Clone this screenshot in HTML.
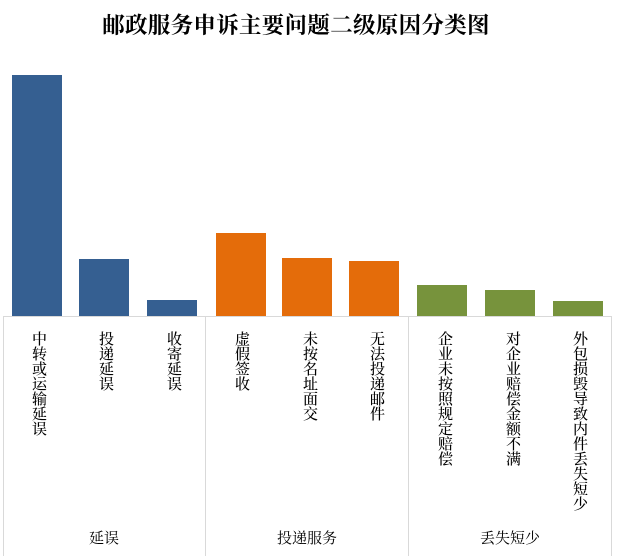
<!DOCTYPE html>
<html><head><meta charset="utf-8"><style>
body{margin:0;background:#fff;width:617px;height:556px;overflow:hidden;position:relative;font-family:"Liberation Serif","Noto Serif CJK SC",serif}
.t{position:absolute;left:0;width:592px;top:8px;text-align:center;font-size:22.5px;font-weight:bold;color:#000;letter-spacing:0.3px}
.b{position:absolute;width:50px}
.v{position:absolute;top:331px;width:16px;font-size:15px;line-height:15.6px;writing-mode:vertical-rl;text-orientation:upright;color:#000;font-weight:500}
.g{position:absolute;top:527px;font-size:15px;text-align:center;width:120px}
.l{position:absolute;background:#d9d9d9}
</style></head><body>
<div class="t">邮政服务申诉主要问题二级原因分类图</div>
<div class="b" style="left:12px;top:75px;height:241px;background:#355f91"></div>
<div class="b" style="left:79px;top:259px;height:57px;background:#355f91"></div>
<div class="b" style="left:147px;top:300px;height:16px;background:#355f91"></div>
<div class="b" style="left:216px;top:233px;height:83px;background:#e46c0a"></div>
<div class="b" style="left:282px;top:258px;height:58px;background:#e46c0a"></div>
<div class="b" style="left:349px;top:261px;height:55px;background:#e46c0a"></div>
<div class="b" style="left:417px;top:285px;height:31px;background:#77933c"></div>
<div class="b" style="left:485px;top:290px;height:26px;background:#77933c"></div>
<div class="b" style="left:553px;top:301px;height:15px;background:#77933c"></div>
<div class="l" style="left:3px;top:316px;width:609px;height:1px"></div>
<div class="l" style="left:3px;top:316px;width:1px;height:240px"></div>
<div class="l" style="left:205px;top:316px;width:1px;height:240px"></div>
<div class="l" style="left:408px;top:316px;width:1px;height:240px"></div>
<div class="l" style="left:611px;top:316px;width:1px;height:240px"></div>
<div class="v" style="left:29px">中转或运输延误</div>
<div class="v" style="left:96px">投递延误</div>
<div class="v" style="left:164px">收寄延误</div>
<div class="v" style="left:232px">虚假签收</div>
<div class="v" style="left:300px">未按名址面交</div>
<div class="v" style="left:367px">无法投递邮件</div>
<div class="v" style="left:435px">企业未按照规定赔偿</div>
<div class="v" style="left:503px">对企业赔偿金额不满</div>
<div class="v" style="left:570px">外包损毁导致内件丢失短少</div>
<div class="g" style="left:44px">延误</div>
<div class="g" style="left:247px">投递服务</div>
<div class="g" style="left:450px">丢失短少</div>
</body></html>
